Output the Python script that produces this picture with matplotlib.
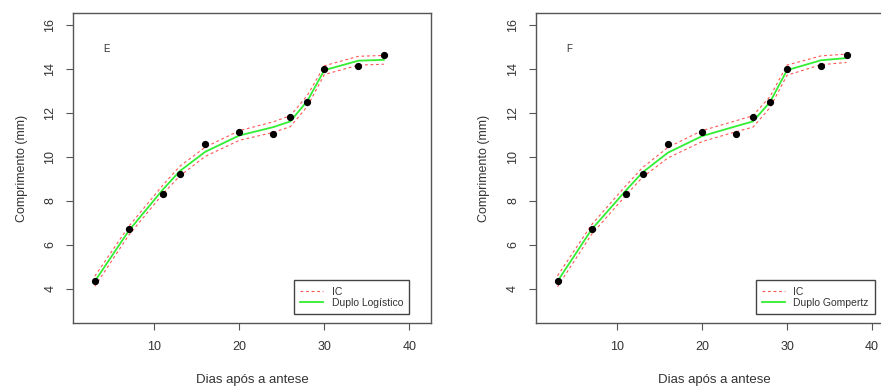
import matplotlib
matplotlib.use("Agg")
import matplotlib.pyplot as plt

plt.rcParams['font.family'] = ['Liberation Sans', 'DejaVu Sans']

dias = [3, 7, 11, 13, 16, 20, 24, 26, 28, 30, 34, 37]
comprimento = [4.35, 6.72, 8.34, 9.21, 10.60, 11.13, 11.04, 11.81, 12.52, 13.99, 14.15, 14.64]

fit_E = [4.35, 6.65, 8.52, 9.36, 10.24, 10.98, 11.36, 11.62, 12.55, 13.95, 14.38, 14.42]
hi_E = [4.58, 6.85, 8.72, 9.58, 10.45, 11.20, 11.60, 11.88, 12.80, 14.15, 14.58, 14.62]
lo_E = [4.12, 6.45, 8.32, 9.14, 10.03, 10.76, 11.12, 11.38, 12.30, 13.75, 14.18, 14.22]

fit_F = [4.35, 6.70, 8.46, 9.30, 10.20, 10.95, 11.40, 11.62, 12.50, 13.95, 14.40, 14.50]
hi_F = [4.60, 6.92, 8.68, 9.52, 10.44, 11.20, 11.65, 11.88, 12.75, 14.18, 14.60, 14.68]
lo_F = [4.10, 6.48, 8.24, 9.08, 9.96, 10.70, 11.15, 11.36, 12.25, 13.72, 14.20, 14.30]

panels = [
    ("E", "Duplo Logístico", fit_E, hi_E, lo_E, 73, 0.9394),
    ("F", "Duplo Gompertz", fit_F, hi_F, lo_F, 535.7, 0.948),
]

W, H = 881, 386
fig = plt.figure(figsize=(W / 100, H / 100), dpi=100)
txtc = '#333333'

for letter, name, fit, hi, lo, xl, legx in panels:
    ax = fig.add_axes([xl / W, (H - 323) / H, 358 / W, 310 / H])
    ax.plot(dias, hi, color='#ff5555', lw=0.8, ls=(0, (2.5, 2.5)), label='IC')
    ax.plot(dias, lo, color='#ff5555', lw=0.8, ls=(0, (2.5, 2.5)))
    ax.plot(dias, fit, color='#33ee33', lw=1.3, label=name)
    ax.plot(dias, comprimento, 'o', color='black', ms=4.2, ls='none')
    ax.set_xlim(0.43, 42.55)
    ax.set_ylim(2.45, 16.55)
    ax.set_xticks([10, 20, 30, 40])
    ax.set_yticks([4, 6, 8, 10, 12, 14, 16])
    ax.tick_params(axis='x', length=5, width=0.8, colors='#555555', labelcolor=txtc,
                   labelsize=9, pad=8)
    ax.tick_params(axis='y', length=5, width=0.8, colors='#555555', labelcolor=txtc,
                   labelsize=9, pad=7)
    for lab in ax.get_yticklabels():
        lab.set_rotation(90)
        lab.set_va('center')
    for s in ax.spines.values():
        s.set_color('#555555')
        s.set_linewidth(1.0)
    ax.set_xlabel('Dias após a antese', fontsize=9.5, color=txtc, labelpad=15)
    ax.set_ylabel('Comprimento (mm)', fontsize=9, color=txtc, labelpad=12)
    ax.text(4.4, 14.9, letter, fontsize=7, color=txtc, ha='center', va='center')
    leg = ax.legend(loc='lower right', bbox_to_anchor=(legx, 0.028), borderaxespad=0,
                    fancybox=False, edgecolor='#444444', fontsize=7.5, handlelength=2.2,
                    handletextpad=0.8, borderpad=0.6, labelspacing=0.15, framealpha=1)
    leg.get_frame().set_linewidth(1.0)
    for t in leg.get_texts():
        t.set_color(txtc)

fig.savefig('out.png', dpi=100)
